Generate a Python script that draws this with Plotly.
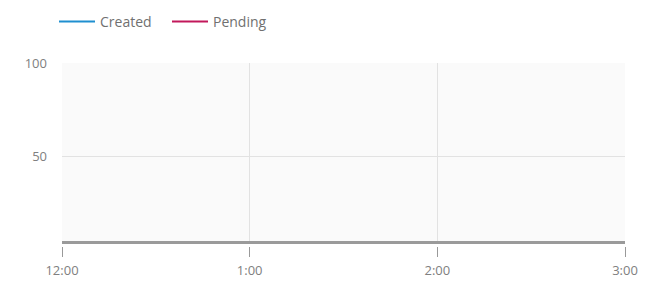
import plotly.graph_objects as go

hours = [0, 1, 2, 3]
tick_labels = ["12:00", "1:00", "2:00", "3:00"]
created = [0, 0, 0, 0]
pending = [0, 0, 0, 0]
y_ticks = [50, 100]

W, H = 643, 276  # page body has an 8px margin inside the 651x284 window

fig = go.Figure()
fig.add_trace(go.Scatter(x=hours, y=created, mode="lines", name="Created",
                         line=dict(color="#1f8fd0", width=2), xaxis="x", yaxis="y"))
fig.add_trace(go.Scatter(x=hours, y=pending, mode="lines", name="Pending",
                         line=dict(color="#c2185b", width=2), xaxis="x2", yaxis="y"))

font = dict(family="Open Sans, sans-serif", size=13, color="#808080")

fig.update_layout(
    width=W, height=H,
    margin=dict(l=54, r=26, t=55, b=38),
    paper_bgcolor="white",
    plot_bgcolor="#fafafa",
    font=font,
    showlegend=True,
    legend=dict(orientation="h", x=46 / W, xanchor="left", xref="container",
                y=1 - 14 / H, yanchor="middle", yref="container",
                itemwidth=36, entrywidth=62, entrywidthmode="pixels",
                font=dict(family="Open Sans, sans-serif", size=14, color="#707070"),
                bgcolor="rgba(0,0,0,0)"),
    xaxis=dict(range=[0, 3], tickvals=hours, ticktext=tick_labels,
               showticklabels=False, ticks="", automargin=False,
               showgrid=True, gridcolor="#e2e2e2", gridwidth=1,
               showline=True, linecolor="#9a9a9a", linewidth=3,
               zeroline=False, anchor="y"),
    xaxis2=dict(range=[0, 3], tickvals=hours, ticktext=tick_labels,
                overlaying="x", anchor="free", position=0, automargin=False,
                showgrid=False, showline=False, zeroline=False,
                ticks="outside", ticklen=10, tickcolor="#999999", tickwidth=1,
                ticklabelstandoff=2, tickfont=font),
    yaxis=dict(range=[5, 100], tickvals=y_ticks, domain=[0.028, 1], automargin=False,
               showgrid=True, gridcolor="#e2e2e2", gridwidth=1,
               zeroline=False, showline=False, ticks="", ticklabelstandoff=14,
               tickfont=font),
)

fig.write_html("out.html")
